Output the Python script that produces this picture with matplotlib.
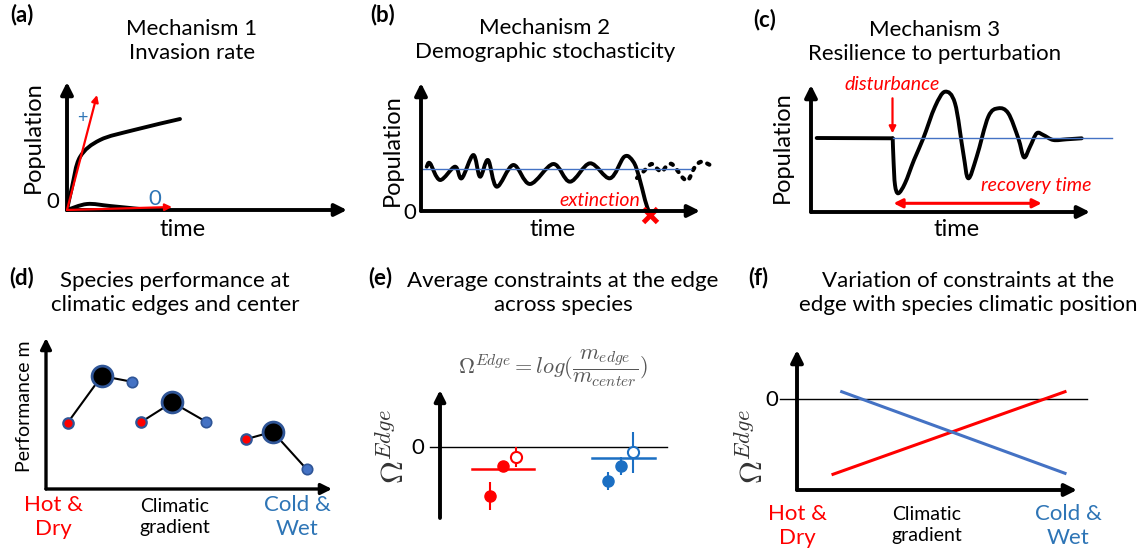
import numpy as np
import matplotlib
matplotlib.use("Agg")
import matplotlib.pyplot as plt
from matplotlib.path import Path
from matplotlib.patches import PathPatch

plt.rcParams["font.family"] = ["Lato", "DejaVu Sans"]
plt.rcParams["mathtext.fontset"] = "cm"

W, H = 1138, 552
RED = "#ff0000"
OFFICE_BLUE = "#4472c4"
DARK_BLUE = "#2f5597"
TEXT_BLUE = "#2e75b6"
E_BLUE = "#1b6fc3"

# ---- (a) invasion rate: population vs time (schematic units) ----
a_grow_t = [0, 0.5, 1.3, 3.3, 6.7, 11.3]
a_grow_n = [0, 2.3, 5.3, 7.0, 8.0, 9.1]
a_fail_t = [0, 2.0, 4.3, 7.3]
a_fail_n = [0, 0.6, 0.4, 0.1]
a_slope_pos = (3.0, 11.5)
a_slope_zero = (10.5, 0.3)

# ---- (b) demographic stochasticity ----
b_t = [0.57, 0.9, 1.9, 3.4, 4.07, 5.23, 5.9, 6.7, 7.57, 9.23, 10.9, 13.23,
       14.9, 16.9, 18.9, 20.33, 21.23, 21.8, 22.4, 22.73]
b_n = [4.43, 4.77, 3.1, 4.43, 3.27, 5.6, 3.43, 5.1, 2.43, 4.6, 2.7, 4.7,
       2.93, 4.77, 3.27, 5.43, 4.93, 3.43, 1.1, 0.1]
b_alt_t = [21.6, 22.07, 22.57, 23.07, 23.57, 24.07, 24.57, 25.07, 25.73,
           26.23, 26.73, 27.4, 28.07, 28.9]
b_alt_n = [3.3, 3.77, 4.27, 4.7, 4.27, 3.93, 4.5, 4.7, 3.93, 3.27, 3.1,
           4.43, 4.93, 4.6]
b_mean = 4.2
b_extinct_t = 22.9

# ---- (c) resilience to perturbation ----
c_t = [0.57, 8.17, 8.25, 8.4, 8.73, 9.4, 10.3, 11.23, 12.4, 13.4, 14.4,
       15.23, 15.73, 16.57, 17.73, 18.73, 19.73, 20.73, 21.3, 21.9, 22.57,
       23.23, 24.23, 25.57, 27.07]
c_n = [7.4, 7.37, 5.2, 2.7, 1.87, 2.87, 5.2, 7.37, 10.53, 12.03, 10.87,
       5.87, 3.37, 5.53, 9.53, 10.37, 9.87, 7.37, 5.47, 6.53, 7.87, 7.7,
       7.2, 7.27, 7.37]
c_eq = 7.43
c_disturb_t = 8.15
c_recovered_t = 23.07

# ---- (d) performance at edges and centre, three species ----
d_species_x = [[2.17, 5.57, 8.57], [9.47, 12.63, 16.0], [19.97, 22.67, 26.07]]
d_species_m = [[6.63, 11.3, 10.73], [6.67, 8.67, 6.73], [4.97, 5.73, 1.97]]

# ---- (e) average Omega^Edge across species ----
e_red_x = [5.0, 6.33]
e_red_y = [-4.9, -1.9]
e_red_err = [1.4, 0.0]
e_red_open = (7.57, -0.97, 1.0)
e_red_mean = (-2.23, 3.17, 9.4)
e_blue_x = [16.83, 18.1]
e_blue_y = [-3.4, -1.87]
e_blue_err = [0.92, 0.92]
e_blue_open = (19.33, -0.53, 2.08)
e_blue_mean = (-1.07, 15.23, 21.5)

# ---- (f) Omega^Edge along the climatic gradient ----
f_x = [3.6, 26.8]
f_red = [1.57, 9.83]
f_blue_x = [4.47, 26.8]
f_blue = [9.83, 1.67]
f_zero = 9.07

fig = plt.figure(figsize=(W / 100, H / 100), dpi=100)


def panel(origin, box):
    ox, oy = origin
    left, top, right, bottom = box
    ax = fig.add_axes([left / W, 1 - bottom / H, (right - left) / W, (bottom - top) / H])
    ax.set_xlim((left - ox) / 10, (right - ox) / 10)
    ax.set_ylim((oy - bottom) / 10, (oy - top) / 10)
    ax.axis("off")
    return ax


def ftext(x, y, s, **kw):
    kw.setdefault("ha", "center")
    kw.setdefault("va", "center")
    fig.text(x / W, 1 - y / H, s, **kw)


def arrow(ax, start, end, lw=2.8, color="black", style="-|>", ms=18):
    ax.annotate("", xy=end, xytext=start,
                arrowprops=dict(arrowstyle=style, lw=lw, color=color,
                                mutation_scale=ms, shrinkA=0, shrinkB=0),
                annotation_clip=False)


def smooth(ax, x, y, **kw):
    p = np.column_stack([x, y]).astype(float)
    verts = [p[0]]
    codes = [Path.MOVETO]
    for i in range(len(p) - 1):
        p0 = p[max(i - 1, 0)]
        p1, p2 = p[i], p[i + 1]
        p3 = p[min(i + 2, len(p) - 1)]
        verts += [p1 + (p2 - p0) / 6, p2 - (p3 - p1) / 6, p2]
        codes += [Path.CURVE4] * 3
    ax.add_patch(PathPatch(Path(verts, codes), fill=False, capstyle="round",
                           joinstyle="round", clip_on=False, **kw))


def axes_arrows(ax, ytop, xend, lw=2.8, ms=18):
    arrow(ax, (0, 0), (0, ytop), lw=lw, ms=ms)
    arrow(ax, (0, 0), (xend, 0), lw=lw, ms=ms)


# ---------------- titles ----------------
title_kw = dict(fontsize=16, linespacing=1.25)
tag_kw = dict(fontsize=16, fontweight="bold")
ftext(22, 15, "(a)", **tag_kw)
ftext(192, 41, "Mechanism 1\nInvasion rate", **title_kw)
ftext(383, 15, "(b)", **tag_kw)
ftext(545, 40, "Mechanism 2\nDemographic stochasticity", **title_kw)
ftext(765, 20, "(c)", **tag_kw)
ftext(935, 42, "Mechanism 3\nResilience to perturbation", **title_kw)
ftext(22, 278, "(d)", **tag_kw)
ftext(175, 293, "Species performance at\nclimatic edges and center", **title_kw)
ftext(380, 278, "(e)", **tag_kw)
ftext(563, 293, "Average constraints at the edge\nacross species", **title_kw)
ftext(758, 278, "(f)", **tag_kw)
ftext(968, 293, "Variation of constraints at the\nedge with species climatic position", **title_kw)

# ---------------- (a) ----------------
ax = panel((67, 210), (0, 70, 370, 250))
axes_arrows(ax, 12.8, 28.0)
smooth(ax, a_grow_t, a_grow_n, lw=2.8, edgecolor="black")
smooth(ax, a_fail_t, a_fail_n, lw=2.8, edgecolor="black")
arrow(ax, (0, 0), a_slope_pos, lw=1.6, color=RED, ms=10)
arrow(ax, (0, 0), a_slope_zero, lw=1.6, color=RED, ms=10)
ax.text(1.5, 9.2, "+", color=TEXT_BLUE, fontsize=13, ha="center", va="center")
ax.text(8.8, 1.1, "0", color=TEXT_BLUE, fontsize=16, ha="center", va="center")
ax.text(-1.4, 0.8, "0", fontsize=16, ha="center", va="center")
ax.text(-3.4, 7.3, "Population", fontsize=17, rotation=90, ha="center", va="center")
ax.text(11.6, -2.0, "time", fontsize=17, ha="center", va="center")

# ---------------- (b) ----------------
ax = panel((421, 211), (370, 70, 750, 250))
ax.plot([0, 27.0], [b_mean, b_mean], color=OFFICE_BLUE, lw=1.0)
axes_arrows(ax, 12.8, 27.9)
smooth(ax, b_t, b_n, lw=2.8, edgecolor="black")
smooth(ax, b_alt_t, b_alt_n, lw=3.0, edgecolor="black", linestyle=(0, (0.6, 1.6)))
ax.plot([b_extinct_t], [-0.4], marker="x", ms=10, mew=3.5, color=RED, clip_on=False)
ax.text(17.9, 1.1, "extinction", color=RED, fontsize=14, style="italic", ha="center", va="center")
ax.text(-1.1, -0.2, "0", fontsize=16, ha="center", va="center")
ax.text(-2.9, 6.1, "Population", fontsize=17, rotation=90, ha="center", va="center")
ax.text(13.2, -1.9, "time", fontsize=17, ha="center", va="center")

# ---------------- (c) ----------------
ax = panel((811, 212), (750, 70, 1138, 250))
ax.plot([c_disturb_t, 30.07], [c_eq, c_eq], color=OFFICE_BLUE, lw=1.0)
axes_arrows(ax, 12.7, 27.9)
smooth(ax, c_t[:2], c_n[:2], lw=2.8, edgecolor="black")
smooth(ax, c_t[1:], c_n[1:], lw=2.8, edgecolor="black")
arrow(ax, (c_disturb_t, 11.37), (c_disturb_t, 7.87), lw=1.6, color=RED, ms=10)
ax.text(8.07, 12.7, "disturbance", color=RED, fontsize=14, style="italic", ha="center", va="center")
arrow(ax, (c_disturb_t + 0.1, 0.87), (c_recovered_t, 0.87), lw=2.2, color=RED, style="<|-|>", ms=13)
ax.text(22.57, 2.6, "recovery time", color=RED, fontsize=14, style="italic", ha="center", va="center")
ax.text(-2.9, 6.5, "Population", fontsize=17, rotation=90, ha="center", va="center")
ax.text(14.57, -1.8, "time", fontsize=17, ha="center", va="center")

# ---------------- (d) ----------------
ax = panel((46, 489), (0, 320, 370, 552))
axes_arrows(ax, 15.1, 28.6, lw=2.4, ms=16)
for xs, ms_ in zip(d_species_x, d_species_m):
    ax.plot(xs, ms_, color="black", lw=1.5, zorder=2)
    ax.plot(xs[1], ms_[1], "o", ms=15, mfc="black", mec=DARK_BLUE, mew=2.0, zorder=3)
    ax.plot(xs[0], ms_[0], "o", ms=7.5, mfc=RED, mec=DARK_BLUE, mew=1.6, zorder=3)
    ax.plot(xs[2], ms_[2], "o", ms=7.5, mfc=OFFICE_BLUE, mec=DARK_BLUE, mew=1.2, zorder=3)
ax.text(-2.1, 8.23, "Performance m", fontsize=14, rotation=90, ha="center", va="center")
ax.text(0.7, -2.8, "Hot &\nDry", color=RED, fontsize=16, ha="center", va="center", linespacing=1.25)
ax.text(12.9, -2.8, "Climatic\ngradient", fontsize=14, ha="center", va="center", linespacing=1.3)
ax.text(25.1, -2.8, "Cold &\nWet", color=TEXT_BLUE, fontsize=16, ha="center", va="center", linespacing=1.25)

# ---------------- (e) ----------------
ax = panel((440, 447), (370, 320, 740, 552))
ax.plot([-1.0, 22.67], [0, 0], color="black", lw=1.0)
arrow(ax, (0, -7.1), (0, 5.7), lw=2.8, ms=16)
ax.plot(e_red_mean[1:], [e_red_mean[0]] * 2, color=RED, lw=1.8)
ax.plot(e_blue_mean[1:], [e_blue_mean[0]] * 2, color=E_BLUE, lw=1.8)
ax.errorbar(e_red_x, e_red_y, yerr=e_red_err, fmt="o", ms=8, color=RED, elinewidth=1.5, capsize=0)
ax.errorbar(e_blue_x, e_blue_y, yerr=e_blue_err, fmt="o", ms=8, color=E_BLUE, elinewidth=1.5, capsize=0)
ax.errorbar([e_red_open[0]], [e_red_open[1]], yerr=[e_red_open[2]], fmt="o", ms=8,
            color=RED, mfc="white", mew=1.5, elinewidth=1.5, capsize=0)
ax.errorbar([e_blue_open[0]], [e_blue_open[1]], yerr=[e_blue_open[2]], fmt="o", ms=8,
            color=E_BLUE, mfc="white", mew=1.5, elinewidth=1.5, capsize=0)
ax.text(-2.17, -0.13, "0", fontsize=16, ha="center", va="center")
ax.text(-4.7, 0, r"$\Omega^{Edge}$", fontsize=23, color="#333333", rotation=90, ha="center", va="center")
ax.text(11.3, 7.9, r"$\Omega^{Edge} = log(\dfrac{m_{edge}}{m_{center}})$", fontsize=16,
        color="#555555", ha="center", va="center")

# ---------------- (f) ----------------
ax = panel((797, 490), (740, 320, 1138, 552))
ax.plot([-1.7, 28.97], [f_zero, f_zero], color="black", lw=1.0)
axes_arrows(ax, 14.0, 28.0)
ax.plot(f_x, f_red, color=RED, lw=2.2)
ax.plot(f_blue_x, f_blue, color=OFFICE_BLUE, lw=2.2)
ax.text(-2.53, 9.0, "0", fontsize=16, ha="center", va="center")
ax.text(-4.5, 4.3, r"$\Omega^{Edge}$", fontsize=23, color="#333333", rotation=90, ha="center", va="center")
ax.text(0.0, -3.6, "Hot &\nDry", color=RED, fontsize=16, ha="center", va="center", linespacing=1.25)
ax.text(12.97, -3.5, "Climatic\ngradient", fontsize=14, ha="center", va="center", linespacing=1.3)
ax.text(27.13, -3.6, "Cold &\nWet", color=TEXT_BLUE, fontsize=16, ha="center", va="center", linespacing=1.25)

fig.savefig("out.png", dpi=100)
